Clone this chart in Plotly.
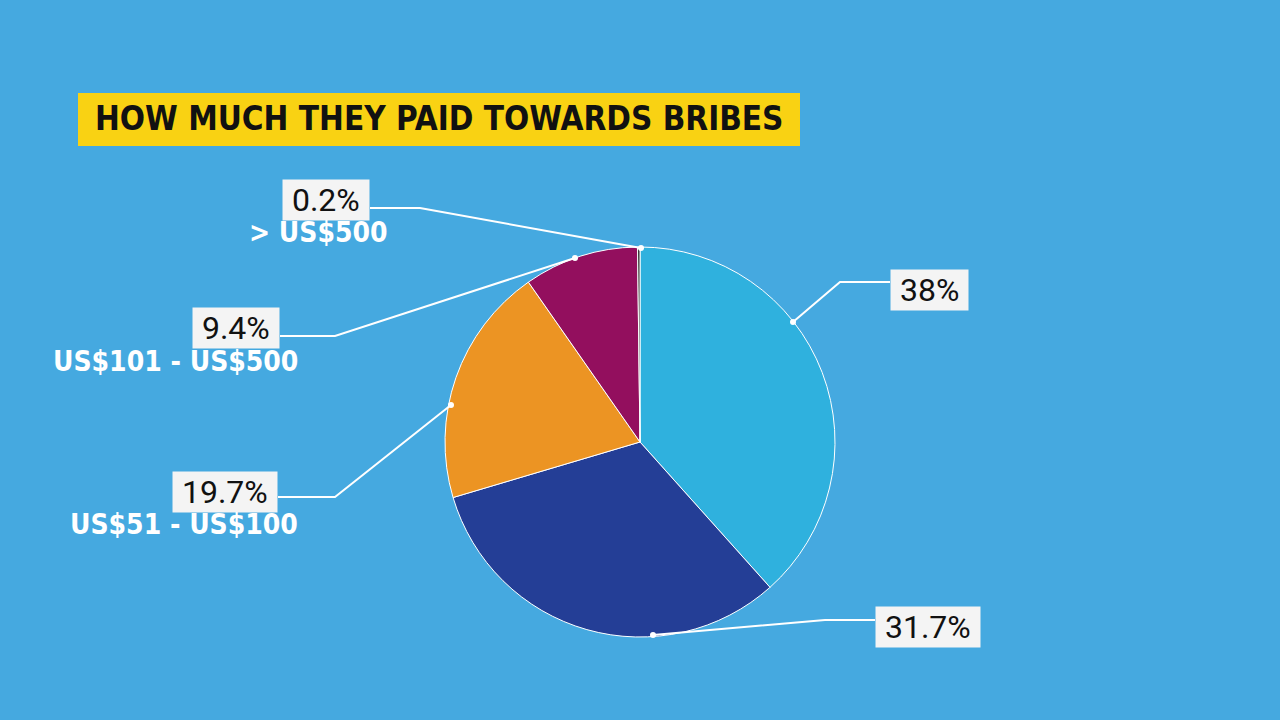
import plotly.graph_objects as go

categories = ["US$1 - US$10", "US$11 - US$50", "US$51 - US$100", "US$101 - US$500", "> US$500"]
values = [38.0, 31.7, 19.7, 9.4, 0.2]
pct_labels = ["38%", "31.7%", "19.7%", "9.4%", "0.2%"]
sub_labels = ["", "", "US$51 - US$100", "US$101 - US$500", "> US$500"]
colors = ["#2fb1de", "#243e96", "#ec9423", "#930f5e", "#2a2a2a"]

W, H = 1280, 720
def px(x): return x / W
def py(y): return 1 - y / H

fig = go.Figure(go.Pie(
    values=values, labels=categories, sort=False, direction="clockwise", rotation=0,
    marker=dict(colors=colors, line=dict(color="white", width=1)),
    textinfo="none", hoverinfo="label+percent", showlegend=False,
    domain=dict(x=[px(445), px(835)], y=[py(637), py(247)]),
))

leaders = [
    ((793, 322), (840, 282), (890, 282), 290, "left"),
    ((653, 635), (825, 620), (875, 620), 627, "left"),
    ((451, 405), (335, 497), (278, 497), 492, "right"),
    ((575, 258), (335, 336), (280, 336), 328, "right"),
    ((641, 248), (420, 208), (370, 208), 200, "right"),
]
sub_pos = [None, None, (300, 524), (300, 361), (390, 233)]

shapes = [dict(type="rect", xref="paper", yref="paper",
               x0=px(78), x1=px(800), y0=py(146), y1=py(93),
               fillcolor="#f9d213", line=dict(width=0), layer="below")]
annotations = []
for i, (d, e, f, cy, anchor) in enumerate(leaders):
    shapes.append(dict(type="path", xref="paper", yref="paper",
                       path=f"M {px(d[0])} {py(d[1])} L {px(e[0])} {py(e[1])} L {px(f[0])} {py(f[1])}",
                       line=dict(color="white", width=2)))
    shapes.append(dict(type="circle", xref="paper", yref="paper",
                       x0=px(d[0]-3), x1=px(d[0]+3), y0=py(d[1]+3), y1=py(d[1]-3),
                       fillcolor="white", line=dict(width=0)))
    annotations.append(dict(xref="paper", yref="paper", x=px(f[0]), y=py(cy),
                            xanchor=anchor, yanchor="middle",
                            text="&nbsp;" + pct_labels[i] + "&nbsp;", showarrow=False,
                            font=dict(family="Roboto", size=32, color="#111"),
                            bgcolor="#f4f4f4", borderpad=1))
    if sub_labels[i]:
        annotations.append(dict(xref="paper", yref="paper", x=px(sub_pos[i][0]), y=py(sub_pos[i][1]),
                                xanchor="right", yanchor="middle",
                                text=f"<b>{sub_labels[i]}</b>", showarrow=False,
                                font=dict(family="DejaVu Sans Condensed", size=28, color="white")))

annotations.append(dict(xref="paper", yref="paper", x=px(439), y=py(119),
                        xanchor="center", yanchor="middle",
                        text="<b>HOW MUCH THEY PAID TOWARDS BRIBES</b>", showarrow=False,
                        font=dict(family="DejaVu Sans Condensed", size=33, color="#111")))

fig.update_layout(width=W, height=H, margin=dict(l=0, r=0, t=0, b=0),
                  paper_bgcolor="#45a9e0", plot_bgcolor="#45a9e0",
                  shapes=shapes, annotations=annotations)
fig.write_html("out.html", config={"displayModeBar": False},
               post_script="document.body.style.margin='0';")
